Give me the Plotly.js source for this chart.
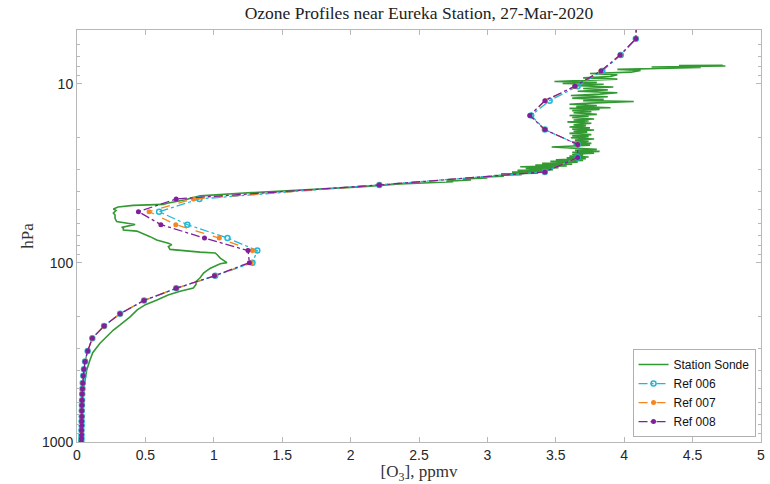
<!DOCTYPE html>
<html>
<head>
<meta charset="utf-8">
<script src="https://cdn.plot.ly/plotly-3.0.1.min.js"></script>
<style>html,body{margin:0;padding:0;background:#fff;}#chart{width:770px;height:484px;}</style>
</head>
<body>
<div id="chart"></div>
<script>
// Station sonde profile (ppmv, hPa), bottom to top
const sondeO3 = [0.015,0.022,0.034,0.051,0.071,0.095,0.115,0.168,0.217,0.266,0.315,0.388,0.44,0.50,0.585,0.666,0.754,0.85,0.87,0.87,0.90,0.925,0.975,1.0,1.047,1.096,1.06,1.047,1.025,1.01,0.90,0.754,0.68,0.668,0.693,0.668,0.583,0.534,0.46,0.437,0.339,0.339,0.327,0.425,0.29,0.278,0.278,0.266,0.285,0.266,0.30,0.41,0.63,0.66,0.79,0.90,1.19,1.63,1.93,2.07,2.36,2.56,
2.75,2.70,2.88,2.82,3.00,2.95,3.12,3.05,3.25,3.10,3.37,3.18,3.42,3.22,3.48,3.28,3.52,3.24,3.58,3.35,3.62,3.40,3.66,3.46,3.70,3.50,3.72,3.58,3.74,3.60,3.70,3.62,3.78,3.62,3.82,3.64,3.80,3.47,3.62,3.75,3.63,3.76,3.62,3.74,3.64,3.78,3.61,3.74,3.62,3.76,3.60,3.73,3.63,3.78,3.62,3.75,3.60,3.72,3.63,3.76,3.585,3.74,3.63,3.78,3.62,3.74,3.60,3.80,3.63,3.76,3.62,3.82,3.60,3.90,3.65,3.80,3.60,3.75,4.07,3.70,3.85,3.62,3.88,3.61,3.82,3.95,3.66,3.88,3.70,3.92,3.62,3.85,3.55,3.80,3.49,3.75,3.95,3.70,3.90,3.95,3.75,4.05,4.12,3.95,4.30,4.56,4.20,4.74,4.40,4.72];
const sondeP = [1000,890,692,491,396,348,317,281,258,237,222,200,183,171,161,151,144,138,132,127,121,114,107,105,101,99.6,96,94,90,88,87,85.5,84,81,79,77.6,74.5,71.3,68,66.4,65.5,64,63.3,61,58.7,56.3,54,52.7,50.9,50,48.7,47.7,47.1,46.4,44.4,42.2,40.8,39.1,38.1,37.6,36.2,35.8,
35.2,34.9,34.4,34.0,33.5,33.2,32.8,32.5,32.1,31.8,31.5,31.1,30.8,30.4,30.1,29.7,29.4,29.0,28.7,28.4,28.1,27.8,27.4,27.1,26.8,26.5,26.2,25.9,25.6,25.3,25.0,24.7,24.4,24.1,23.8,23.5,23.2,22.5,22.3,22.0,21.8,21.5,21.2,20.9,20.6,20.3,20.0,19.7,19.5,19.2,18.9,18.6,18.4,18.1,17.9,17.6,17.4,17.1,16.9,16.6,16.3,16.1,15.9,15.7,15.4,15.2,15.0,14.8,14.5,14.3,14.1,13.9,13.7,13.6,13.4,13.2,13.0,12.8,12.55,12.4,12.2,12.0,11.8,11.6,11.4,11.2,11.0,10.8,10.6,10.4,10.2,10.05,9.95,9.8,9.7,9.55,9.4,9.25,9.1,8.9,8.75,8.6,8.4,8.3,8.2,8.1,8.05,7.95,7.9,7.87];

// Reference profiles on common pressure levels (hPa), top to bottom
const refP = [4.6,5.6,6.9,8.46,10.3,12.4,15.0,18.0,21.8,25.8,31.0,36.7,43.9,51.7,61.1,72.6,85.3,99.6,118,138.6,162,192,225,263,310,355,392,427,468,505,540,585,623,670,720,765,810,860,910,955,1000];
const ref006 = [4.09,4.085,3.975,3.84,3.66,3.455,3.32,3.42,3.66,3.66,3.42,2.21,0.895,0.60,0.807,1.10,1.318,1.283,1.01,0.725,0.49,0.315,0.198,0.112,0.078,0.059,0.051,0.046,0.042,0.040,0.038,0.037,0.036,0.035,0.035,0.034,0.034,0.033,0.033,0.033,0.032];
const ref007 = [4.09,4.085,3.97,3.83,3.645,3.425,3.31,3.42,3.66,3.66,3.42,2.21,0.851,0.527,0.722,1.04,1.283,1.274,1.008,0.725,0.49,0.315,0.198,0.112,0.078,0.059,0.051,0.046,0.042,0.040,0.038,0.037,0.036,0.035,0.035,0.034,0.034,0.033,0.033,0.033,0.032];
const ref008 = [4.09,4.085,3.97,3.83,3.64,3.42,3.31,3.42,3.66,3.66,3.42,2.21,0.725,0.449,0.613,0.932,1.25,1.26,1.005,0.725,0.49,0.315,0.198,0.112,0.078,0.059,0.051,0.046,0.042,0.040,0.038,0.037,0.036,0.035,0.035,0.034,0.034,0.033,0.033,0.033,0.032];

const seriesNames = ['Station Sonde','Ref 006','Ref 007','Ref 008'];
const xTickVals = [0,0.5,1,1.5,2,2.5,3,3.5,4,4.5,5];
const xTickText = ['0','0.5','1','1.5','2','2.5','3','3.5','4','4.5','5'];
const yTickVals = [10,100,1000];
const yTickText = ['10','100','1000'];
const yMinorVals = [5,6,7,8,9,20,30,40,50,60,70,80,90,200,300,400,500,600,700,800,900];

const serif = 'Liberation Serif, Times New Roman, serif';
const sans = 'Liberation Sans, Arial, sans-serif';
const axisGray = '#b8b8b8';

const traces = [
  {x: sondeO3, y: sondeP, name: seriesNames[0], mode: 'lines', type: 'scatter',
   line: {color: '#339933', width: 1.6}},
  {x: ref006, y: refP, name: seriesNames[1], mode: 'lines+markers', type: 'scatter',
   line: {color: '#1fb8d6', width: 1.3, dash: 'dashdot'},
   marker: {symbol: 'circle-open', size: 5, color: '#1fb8d6', line: {width: 1.5}}},
  {x: ref007, y: refP, name: seriesNames[2], mode: 'lines+markers', type: 'scatter',
   line: {color: '#f5861f', width: 1.3, dash: 'dash'},
   marker: {symbol: 'circle', size: 5, color: '#f5861f'}},
  {x: ref008, y: refP, name: seriesNames[3], mode: 'lines+markers', type: 'scatter',
   line: {color: '#7f1f9c', width: 1.3, dash: 'dashdot'},
   marker: {symbol: 'circle', size: 5, color: '#7f1f9c'}}
];

const layout = {
  width: 770, height: 484,
  margin: {l: 77, r: 9, t: 30, b: 42},
  paper_bgcolor: '#ffffff', plot_bgcolor: '#ffffff',
  showlegend: true,
  title: {text: 'Ozone Profiles near Eureka Station, 27-Mar-2020',
          font: {family: serif, size: 17.5, color: '#222'},
          x: 0.5, xanchor: 'center', xref: 'paper', y: 0.974, yanchor: 'middle', yref: 'container'},
  xaxis: {
    type: 'linear', range: [0, 5],
    tickmode: 'array', tickvals: xTickVals, ticktext: xTickText,
    ticks: 'inside', ticklen: 5, tickwidth: 1, tickcolor: axisGray,
    showline: true, linecolor: axisGray, linewidth: 1, mirror: 'ticks',
    showgrid: false, zeroline: false,
    tickfont: {family: sans, size: 14, color: '#262626'},
    title: {text: '[O<sub>3</sub>], ppmv', font: {family: serif, size: 17, color: '#333'}, standoff: 1}
  },
  yaxis: {
    type: 'log', range: [3, Math.log10(5)],
    tickmode: 'array', tickvals: yTickVals, ticktext: yTickText,
    ticks: 'inside', ticklen: 5, tickwidth: 1, tickcolor: axisGray,
    minor: {tickmode: 'array', tickvals: yMinorVals, ticks: 'inside', ticklen: 3, tickcolor: axisGray, showgrid: false},
    showline: true, linecolor: axisGray, linewidth: 1, mirror: 'ticks',
    showgrid: false, zeroline: false,
    tickfont: {family: sans, size: 14, color: '#262626'},
    title: {text: 'hPa', font: {family: serif, size: 17, color: '#333'}, standoff: 4}
  },
  legend: {
    x: 0.992, y: 0.012, xanchor: 'right', yanchor: 'bottom',
    bgcolor: '#ffffff', bordercolor: '#b0b0b0', borderwidth: 1,
    font: {family: sans, size: 12, color: '#111'},
    itemwidth: 30, tracegroupgap: 0
  }
};

Plotly.newPlot('chart', traces, layout, {staticPlot: true, displayModeBar: false});
</script>
</body>
</html>
